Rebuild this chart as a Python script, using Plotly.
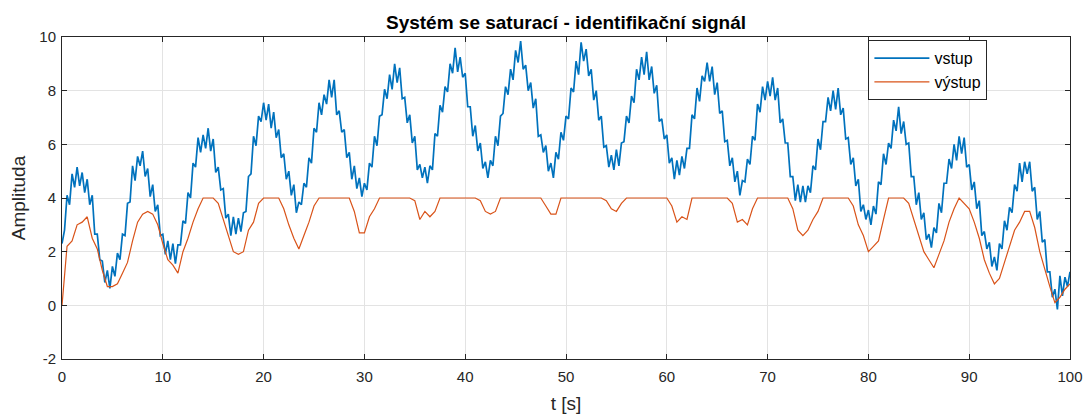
import numpy as np
import plotly.graph_objects as go

vstup = [
    2.3, 2.8, 4.1, 3.75, 4.9, 4.4, 5.15, 4.45, 4.95, 4.2, 4.7, 3.75, 4.1, 2.65, 2.65, 1.7,
    1.65, 0.85, 1.3, 0.63, 1.45, 1.08, 1.95, 1.7, 2.65, 2.6, 3.8, 3.85, 5.2, 4.65, 5.55, 5.2,
    5.75, 4.8, 5.1, 4.05, 4.5, 3.5, 3.75, 2.6, 2.65, 1.9, 2.4, 1.7, 2.3, 1.55, 2.25, 2.25,
    3.15, 3.05, 4.2, 4.0, 5.3, 5.15, 6.25, 5.7, 6.35, 5.85, 6.6, 5.75, 6.2, 4.95, 5.15, 4.3,
    4.35, 3.25, 3.4, 2.6, 3.3, 2.65, 3.25, 2.75, 3.45, 3.5, 4.8, 4.9, 6.3, 5.95, 7.05, 6.85,
    7.55, 6.9, 7.5, 6.6, 7.2, 6.25, 6.55, 5.5, 5.65, 4.7, 5.0, 4.1, 4.5, 3.45, 3.85, 3.75,
    4.55, 4.4, 5.5, 5.3, 6.6, 6.45, 7.55, 7.1, 7.85, 7.5, 8.4, 7.75, 8.4, 7.1, 7.25, 6.45,
    6.55, 5.5, 5.7, 4.7, 5.2, 4.35, 4.75, 4.05, 4.55, 4.3, 5.3, 5.15, 6.3, 5.95, 7.05, 7.1,
    8.05, 7.7, 8.6, 8.05, 9.0, 8.3, 8.85, 7.7, 7.75, 6.8, 7.1, 6.05, 6.3, 5.05, 5.25, 4.75,
    5.15, 4.55, 5.2, 5.05, 6.4, 6.3, 7.45, 7.2, 8.15, 7.95, 9.0, 8.65, 9.6, 8.7, 9.25, 8.5,
    8.65, 7.4, 7.4, 6.3, 6.7, 5.75, 6.05, 5.1, 5.35, 4.75, 5.4, 5.2, 6.3, 5.95, 7.05, 7.15,
    8.15, 7.85, 8.8, 8.4, 9.5, 9.05, 9.85, 8.8, 8.95, 8.0, 8.3, 7.35, 7.7, 6.3, 6.35, 5.7,
    5.95, 5.0, 5.3, 4.75, 5.7, 5.45, 6.45, 6.15, 7.05, 6.95, 8.1, 7.95, 9.1, 8.6, 9.8, 9.1,
    9.55, 8.55, 8.8, 7.65, 8.0, 6.9, 7.05, 5.9, 5.95, 5.15, 5.6, 5.05, 5.8, 5.2, 6.05, 6.1,
    7.05, 6.8, 7.8, 7.55, 8.8, 8.4, 9.25, 8.6, 9.45, 8.4, 8.9, 7.9, 8.2, 6.85, 6.95, 6.2,
    6.35, 5.3, 5.5, 4.7, 5.4, 4.85, 5.55, 5.1, 5.85, 5.85, 7.1, 6.95, 8.1, 7.6, 8.55, 8.35,
    9.05, 8.35, 8.9, 7.85, 8.3, 7.15, 7.25, 6.1, 6.15, 5.2, 5.5, 4.6, 5.0, 4.1, 4.65, 4.6,
    5.45, 5.25, 6.3, 6.15, 7.5, 7.2, 8.15, 7.65, 8.35, 7.8, 8.5, 7.65, 8.1, 6.8, 6.95, 6.05,
    6.05, 4.8, 4.8, 3.9, 4.5, 3.85, 4.45, 3.85, 4.45, 4.2, 5.2, 5.05, 6.2, 5.8, 6.85, 6.85,
    7.75, 7.25, 8.0, 7.3, 8.1, 7.1, 7.35, 6.2, 6.25, 5.25, 5.5, 4.45, 4.7, 3.5, 3.75, 3.2,
    3.55, 3.0, 3.7, 3.4, 4.6, 4.5, 5.65, 5.25, 6.05, 5.85, 6.9, 6.5, 7.4, 6.4, 6.85, 6.0,
    6.05, 4.8, 4.8, 3.75, 4.2, 3.2, 3.45, 2.45, 2.65, 2.15, 2.9, 2.7, 3.8, 3.45, 4.55, 4.55,
    5.45, 5.1, 6.0, 5.4, 6.3, 5.65, 6.25, 5.15, 5.25, 4.3, 4.6, 3.6, 3.9, 2.6, 2.75, 2.1,
    2.35, 1.45, 1.8, 1.3, 2.3, 2.1, 3.15, 2.8, 3.65, 3.45, 4.5, 4.25, 5.3, 4.6, 5.35, 4.9,
    5.35, 4.25, 4.4, 3.2, 3.5, 2.35, 2.45, 1.25, 1.25, 0.3, 0.6, -0.15, 1.1, 0.35, 1.05, 0.7,
    1.25,
]

vystup = [
    0.0, 2.2, 2.4, 3.0, 3.1, 3.3, 2.5, 2.1, 1.3, 0.7,
    0.7, 0.8, 1.2, 1.6, 2.4, 3.1, 3.4, 3.5, 3.4, 3.0,
    2.3, 1.7, 1.5, 1.2, 2.0, 2.5, 3.1, 3.6, 4.0, 4.0,
    4.0, 3.8, 3.2, 2.6, 2.0, 1.9, 2.0, 2.8, 3.1, 3.8,
    4.0, 4.0, 4.0, 4.0, 3.6, 3.0, 2.5, 2.1, 2.6, 3.1,
    3.7, 4.0, 4.0, 4.0, 4.0, 4.0, 4.0, 4.0, 3.5, 2.7,
    2.7, 3.3, 3.6, 4.0, 4.0, 4.0, 4.0, 4.0, 4.0, 4.0,
    3.9, 3.2, 3.5, 3.3, 3.5, 4.0, 4.0, 4.0, 4.0, 4.0,
    4.0, 4.0, 4.0, 3.9, 3.5, 3.4, 3.5, 4.0, 4.0, 4.0,
    4.0, 4.0, 4.0, 4.0, 4.0, 4.0, 3.7, 3.4, 3.4, 4.0,
    4.0, 4.0, 4.0, 4.0, 4.0, 4.0, 4.0, 4.0, 3.9, 3.6,
    3.5, 3.8, 4.0, 4.0, 4.0, 4.0, 4.0, 4.0, 4.0, 4.0,
    4.0, 3.7, 3.1, 3.3, 3.2, 4.0, 4.0, 4.0, 4.0, 4.0,
    4.0, 4.0, 4.0, 3.8, 3.1, 3.2, 3.0, 3.6, 4.0, 4.0,
    4.0, 4.0, 4.0, 4.0, 4.0, 3.6, 2.8, 2.6, 2.8, 3.2,
    3.5, 4.0, 4.0, 4.0, 4.0, 4.0, 4.0, 3.7, 3.0, 2.6,
    2.0, 2.2, 2.4, 3.2, 4.0, 4.0, 4.0, 4.0, 3.8, 3.2,
    2.6, 2.0, 1.7, 1.4, 1.9, 2.4, 3.1, 3.6, 4.0, 3.8,
    3.6, 3.1, 2.5, 1.7, 1.2, 0.8, 1.0, 1.6, 2.2, 2.8,
    3.1, 3.5, 3.5, 2.9, 2.0, 1.3, 0.7, 0.1, 0.3, 0.6,
    0.8,
]

t_vstup = np.linspace(0, 100, len(vstup))
t_vystup = np.linspace(0, 100, len(vystup))

x_ticks = [0, 10, 20, 30, 40, 50, 60, 70, 80, 90, 100]
y_ticks = [-2, 0, 2, 4, 6, 8, 10]
y_tick_labels = ["-2", "0", "2", "4", "6", "8", "10"]

FONT = "Liberation Sans, Arial, Helvetica, sans-serif"
AX = "#262626"
GRID = "#e3e3e3"

fig = go.Figure()
fig.add_trace(go.Scatter(x=t_vstup, y=vstup, mode="lines", name="vstup",
                         line=dict(color="#0072BD", width=1.7)))
fig.add_trace(go.Scatter(x=t_vystup, y=vystup, mode="lines", name="výstup",
                         line=dict(color="#D95319", width=1.2)))

axis_common = dict(showgrid=True, gridcolor=GRID, gridwidth=1, zeroline=False,
                   showline=True, linecolor=AX, linewidth=1, mirror="ticks",
                   ticks="inside", ticklen=5, tickcolor=AX, automargin=False,
                   tickfont=dict(family=FONT, size=15, color=AX))

fig.update_layout(
    width=1086, height=416,
    margin=dict(l=62, r=16, t=37, b=57),
    paper_bgcolor="white", plot_bgcolor="white",
    font=dict(family=FONT, color=AX),
    title=dict(text="<b>Systém se saturací - identifikační signál</b>",
               font=dict(family=FONT, size=19, color="#000000"),
               x=0.5, xref="paper", xanchor="center",
               y=1 - 22 / 416, yref="container", yanchor="middle"),
    xaxis=dict(range=[0, 100], tickvals=x_ticks, ticklabelstandoff=4,
               title=dict(text="t [s]", font=dict(family=FONT, size=19, color=AX), standoff=12),
               **axis_common),
    yaxis=dict(range=[-2, 10], tickvals=y_ticks, ticktext=y_tick_labels, ticklabelstandoff=2,
               title=dict(text="Amplituda", font=dict(family=FONT, size=19, color=AX), standoff=8),
               **axis_common),
    legend=dict(x=0.8, y=0.99, xanchor="left", yanchor="top",
                bgcolor="white", bordercolor=AX, borderwidth=1,
                font=dict(family=FONT, size=16, color="#000000"),
                itemwidth=55),
    showlegend=True,
)

fig.write_html("out.html", config={"displayModeBar": False},
               post_script="document.body.style.margin='0';")
